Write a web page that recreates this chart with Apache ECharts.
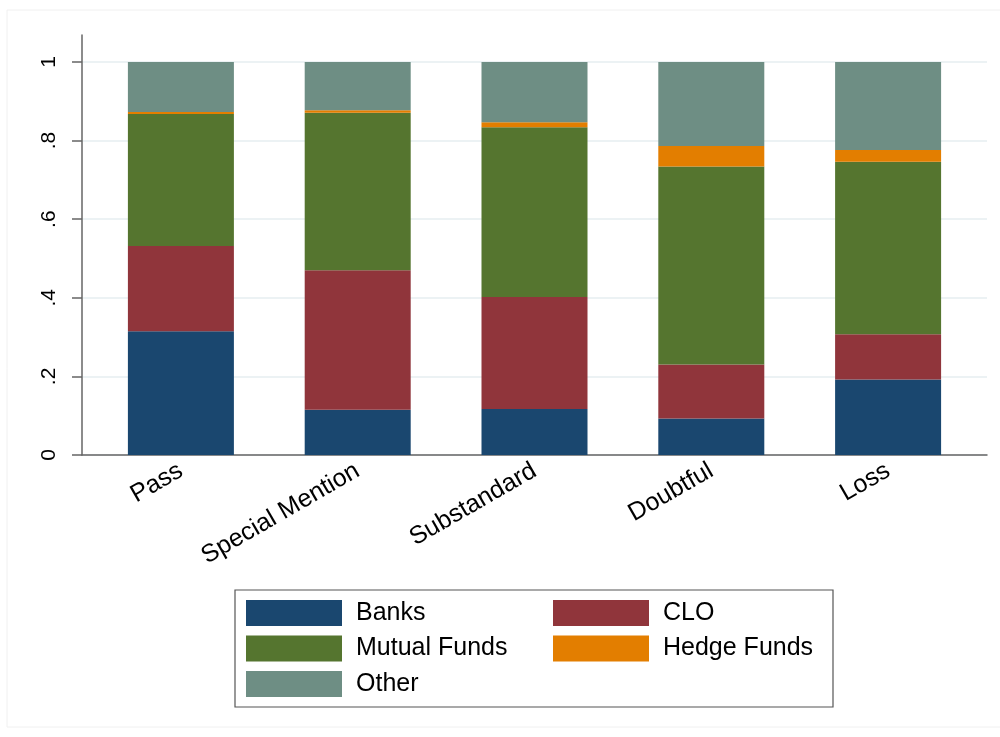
<!DOCTYPE html>
<html>
<head>
<meta charset="utf-8">
<script src="https://cdn.jsdelivr.net/npm/echarts@6/dist/echarts.min.js"></script>
<style>
html,body{margin:0;padding:0;background:#fff;}
#chart{width:1000px;height:737px;}
</style>
</head>
<body>
<div id="chart"></div>
<script>
const categories = ['Pass', 'Special Mention', 'Substandard', 'Doubtful', 'Loss'];
const banks       = [0.315, 0.115, 0.117, 0.093, 0.192];
const clo         = [0.217, 0.355, 0.285, 0.137, 0.115];
const mutualFunds = [0.336, 0.401, 0.432, 0.504, 0.439];
const hedgeFunds  = [0.005, 0.006, 0.013, 0.052, 0.030];
const other       = [0.127, 0.123, 0.153, 0.214, 0.224];
const yTickLabels = ['0', '.2', '.4', '.6', '.8', '1'];
const legendCol1  = ['Banks', 'Mutual Funds', 'Other'];
const legendCol2  = ['CLO', 'Hedge Funds'];

const FONT = 'Liberation Sans, Arial, Helvetica, sans-serif';
const colors = {
  'Banks': '#1a476f',
  'CLO': '#90353b',
  'Mutual Funds': '#55752f',
  'Hedge Funds': '#e37e00',
  'Other': '#6e8e84'
};
const seriesDefs = [
  ['Banks', banks],
  ['CLO', clo],
  ['Mutual Funds', mutualFunds],
  ['Hedge Funds', hedgeFunds],
  ['Other', other]
];

const chart = echarts.init(document.getElementById('chart'), null, {renderer: 'canvas'});
const axisLineStyle = {color: '#666', width: 1.5};

function legendAt(left, data) {
  return {
    orient: 'vertical',
    left: left, top: 600,
    padding: 0,
    itemGap: 9.5,
    itemWidth: 96, itemHeight: 26,
    icon: 'rect',
    data: data,
    textStyle: {fontSize: 25, fontFamily: FONT, color: '#000', padding: [0, 0, 0, 9]}
  };
}

const option = {
  backgroundColor: '#fff',
  animation: false,
  graphic: [
    {type: 'rect', shape: {x: 7, y: 10, width: 1000, height: 717}, style: {fill: 'none', stroke: '#f0f0f0', lineWidth: 1}, silent: true},
    {type: 'rect', shape: {x: 235, y: 590, width: 598, height: 117}, style: {fill: 'none', stroke: '#555', lineWidth: 1.2}, silent: true}
  ],
  grid: [
    {left: 82, right: 13, top: 35, bottom: 282},
    {left: 82, right: 13, top: 62, bottom: 282},
    {left: 92.5, right: 23.5, top: 62, bottom: 282}
  ],
  xAxis: [
    {gridIndex: 0, type: 'value', min: 0, max: 1, axisLine: {show: true, lineStyle: axisLineStyle}, axisTick: {show: false}, axisLabel: {show: false}, splitLine: {show: false}},
    {gridIndex: 1, type: 'value', min: 0, max: 1, show: false},
    {gridIndex: 2, type: 'category', data: categories,
      axisLine: {show: false}, axisTick: {show: false}, splitLine: {show: false},
      axisLabel: {rotate: 30, margin: 14, color: '#000', fontSize: 25, fontFamily: FONT, interval: 0}}
  ],
  yAxis: [
    {gridIndex: 0, type: 'value', min: 0, max: 1, axisLine: {show: true, lineStyle: axisLineStyle}, axisTick: {show: false}, axisLabel: {show: false}, splitLine: {show: false}},
    {gridIndex: 1, type: 'value', min: 0, max: 1, interval: 0.2,
      axisLine: {show: false},
      axisTick: {show: true, length: 10, lineStyle: axisLineStyle},
      axisLabel: {rotate: 90, margin: 22, color: '#000', fontSize: 21, fontFamily: FONT,
        formatter: (v, i) => yTickLabels[i]},
      splitLine: {show: true, lineStyle: {color: '#e6eef0', width: 1.5}}},
    {gridIndex: 2, type: 'value', min: 0, max: 1, show: false}
  ],
  legend: [legendAt(246, legendCol1), legendAt(553, legendCol2)],
  series: seriesDefs.map(([name, vals]) => ({
    name: name,
    type: 'bar',
    stack: 'total',
    xAxisIndex: 2,
    yAxisIndex: 2,
    barWidth: 106,
    data: vals,
    itemStyle: {color: colors[name]}
  }))
};
chart.setOption(option);
</script>
</body>
</html>
